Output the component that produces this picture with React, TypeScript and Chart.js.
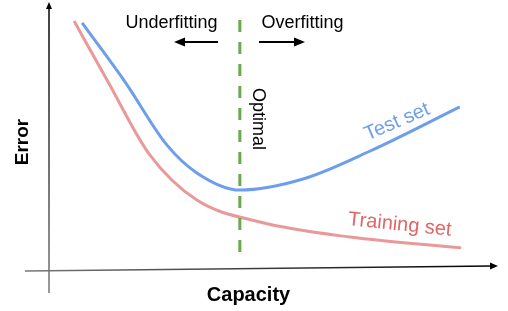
import React, { useEffect, useRef } from "react";
import { Chart, registerables } from "chart.js";

Chart.register(...registerables);

// Data (capacity on x, error on y; both 0..100 arbitrary units)
const trainingCapacity = [5.6, 13.2, 22.5, 33.0, 47.1, 67.2, 92.0];
const trainingError = [93.9, 70.8, 43.2, 26.1, 17.8, 12.1, 8.0];
const testCapacity = [7.4, 17.0, 26.3, 33.0, 42.6, 56.7, 71.7, 91.7];
const testError = [93.2, 70.8, 47.0, 36.4, 29.9, 34.1, 44.7, 61.4];
const optimalCapacity = 42.6;
const optimalErrorRange = [94.3, 2.7];

const seriesLabels = ["Test set", "Training set"];
const regionLabels = ["Underfitting", "Overfitting"];
const optimalLabel = "Optimal";
const axisTitles = { x: "Capacity", y: "Error" };

const FONT = '"Liberation Sans", Arial, Helvetica, sans-serif';
const BLUE = "#6d9eeb";
const RED = "#ea9999";
const RED_TEXT = "#e06666";
const GREEN = "#6aa84f";

function toPoints(xs: number[], ys: number[]) {
  return xs.map((x, i) => ({ x, y: ys[i] }));
}

function arrowHead(ctx: CanvasRenderingContext2D, tipX: number, tipY: number, angle: number, len: number, half: number) {
  ctx.save();
  ctx.translate(tipX, tipY);
  ctx.rotate(angle);
  ctx.beginPath();
  ctx.moveTo(0, 0);
  ctx.lineTo(-len, -half);
  ctx.lineTo(-len, half);
  ctx.closePath();
  ctx.fill();
  ctx.restore();
}

const decorPlugin = {
  id: "decor",
  beforeDatasetsDraw(chart: any) {
    const ctx: CanvasRenderingContext2D = chart.ctx;
    const a = chart.chartArea;
    ctx.save();
    // Y axis
    const yx = a.left;
    const yTop = a.top - 2;
    const yBot = a.bottom + 24;
    let g = ctx.createLinearGradient(0, yBot, 0, yTop);
    g.addColorStop(0, "#777");
    g.addColorStop(1, "#000");
    ctx.strokeStyle = g;
    ctx.lineWidth = 1.5;
    ctx.beginPath();
    ctx.moveTo(yx, yBot);
    ctx.lineTo(yx, yTop + 5);
    ctx.stroke();
    ctx.fillStyle = "#000";
    arrowHead(ctx, yx, yTop - 1, -Math.PI / 2, 7, 3);

    // X axis (slightly tilted)
    const x0 = a.left - 24, y0 = a.bottom + 2;
    const x1 = a.right, y1 = a.bottom - 3;
    g = ctx.createLinearGradient(x0, 0, x1, 0);
    g.addColorStop(0, "#777");
    g.addColorStop(1, "#000");
    ctx.strokeStyle = g;
    ctx.beginPath();
    ctx.moveTo(x0, y0);
    ctx.lineTo(x1 - 5, y1);
    ctx.stroke();
    ctx.fillStyle = "#000";
    arrowHead(ctx, x1 + 1, y1, Math.atan2(y1 - y0, x1 - x0), 8, 3.5);
    ctx.restore();
  },
  afterDatasetsDraw(chart: any) {
    const ctx: CanvasRenderingContext2D = chart.ctx;
    const xs = chart.scales.x;
    const ys = chart.scales.y;
    ctx.save();
    ctx.textAlign = "center";

    // Region labels + arrows
    ctx.fillStyle = "#000";
    ctx.font = `18px ${FONT}`;
    ctx.textBaseline = "alphabetic";
    ctx.fillText(regionLabels[0], 171.5, 28);
    ctx.fillText(regionLabels[1], 302.5, 28);
    ctx.strokeStyle = "#000";
    ctx.lineWidth = 2;
    ctx.beginPath();
    ctx.moveTo(218, 42);
    ctx.lineTo(182, 42);
    ctx.moveTo(259, 42);
    ctx.lineTo(297, 42);
    ctx.stroke();
    arrowHead(ctx, 174, 42, Math.PI, 11, 4.5);
    arrowHead(ctx, 305, 42, 0, 11, 4.5);

    // Optimal label
    ctx.save();
    ctx.translate(xs.getPixelForValue(optimalCapacity) + 18, 119);
    ctx.rotate(Math.PI / 2);
    ctx.textBaseline = "middle";
    ctx.font = `18px ${FONT}`;
    ctx.fillText(optimalLabel, 0, 0);
    ctx.restore();

    // Series labels
    ctx.save();
    ctx.translate(xs.getPixelForValue(77.7), ys.getPixelForValue(55.7));
    ctx.rotate((-23 * Math.PI) / 180);
    ctx.fillStyle = BLUE;
    ctx.font = `20px ${FONT}`;
    ctx.textBaseline = "middle";
    ctx.fillText(seriesLabels[0], 0, 0);
    ctx.restore();

    ctx.save();
    ctx.translate(xs.getPixelForValue(78.3), ys.getPixelForValue(16.7));
    ctx.rotate((6 * Math.PI) / 180);
    ctx.fillStyle = RED_TEXT;
    ctx.font = `20px ${FONT}`;
    ctx.textBaseline = "middle";
    ctx.fillText(seriesLabels[1], 0, 0);
    ctx.restore();

    // Axis titles
    ctx.fillStyle = "#000";
    ctx.font = `bold 20px ${FONT}`;
    ctx.textBaseline = "middle";
    ctx.fillText(axisTitles.x, 248.5, 295);
    ctx.save();
    ctx.translate(23, 142);
    ctx.rotate(-Math.PI / 2);
    ctx.font = `bold 19px ${FONT}`;
    ctx.fillText(axisTitles.y, 0, 0);
    ctx.restore();

    ctx.restore();
  },
};

export default function App() {
  const canvasRef = useRef<HTMLCanvasElement | null>(null);

  useEffect(() => {
    const canvas = canvasRef.current;
    if (!canvas) return;
    const chart = new Chart(canvas, {
      type: "scatter",
      data: {
        datasets: [
          {
            label: "Optimal",
            data: optimalErrorRange.map((e) => ({ x: optimalCapacity, y: e })),
            showLine: true,
            borderColor: GREEN,
            borderWidth: 3,
            borderDash: [12, 10],
            pointRadius: 0,
            order: 0,
          },
          {
            label: seriesLabels[0],
            data: toPoints(testCapacity, testError),
            showLine: true,
            borderColor: BLUE,
            borderWidth: 3,
            pointRadius: 0,
            cubicInterpolationMode: "monotone",
            order: 1,
          },
          {
            label: seriesLabels[1],
            data: toPoints(trainingCapacity, trainingError),
            showLine: true,
            borderColor: RED,
            borderWidth: 3,
            pointRadius: 0,
            cubicInterpolationMode: "monotone",
            order: 2,
          },
        ],
      },
      options: {
        responsive: false,
        animation: false,
        devicePixelRatio: 1,
        layout: { padding: { left: 49, right: 11, top: 5, bottom: 42 } },
        scales: {
          x: { type: "linear", min: 0, max: 100, display: false },
          y: { type: "linear", min: 0, max: 100, display: false },
        },
        plugins: {
          legend: { display: false },
          tooltip: { enabled: false },
        },
      },
      plugins: [decorPlugin],
    } as any);
    return () => chart.destroy();
  }, []);

  return (
    <div style={{ position: "absolute", left: 0, top: 0, width: 508, height: 311, background: "#fff" }}>
      <canvas ref={canvasRef} width={508} height={311} style={{ display: "block", width: 508, height: 311 }} />
    </div>
  );
}
